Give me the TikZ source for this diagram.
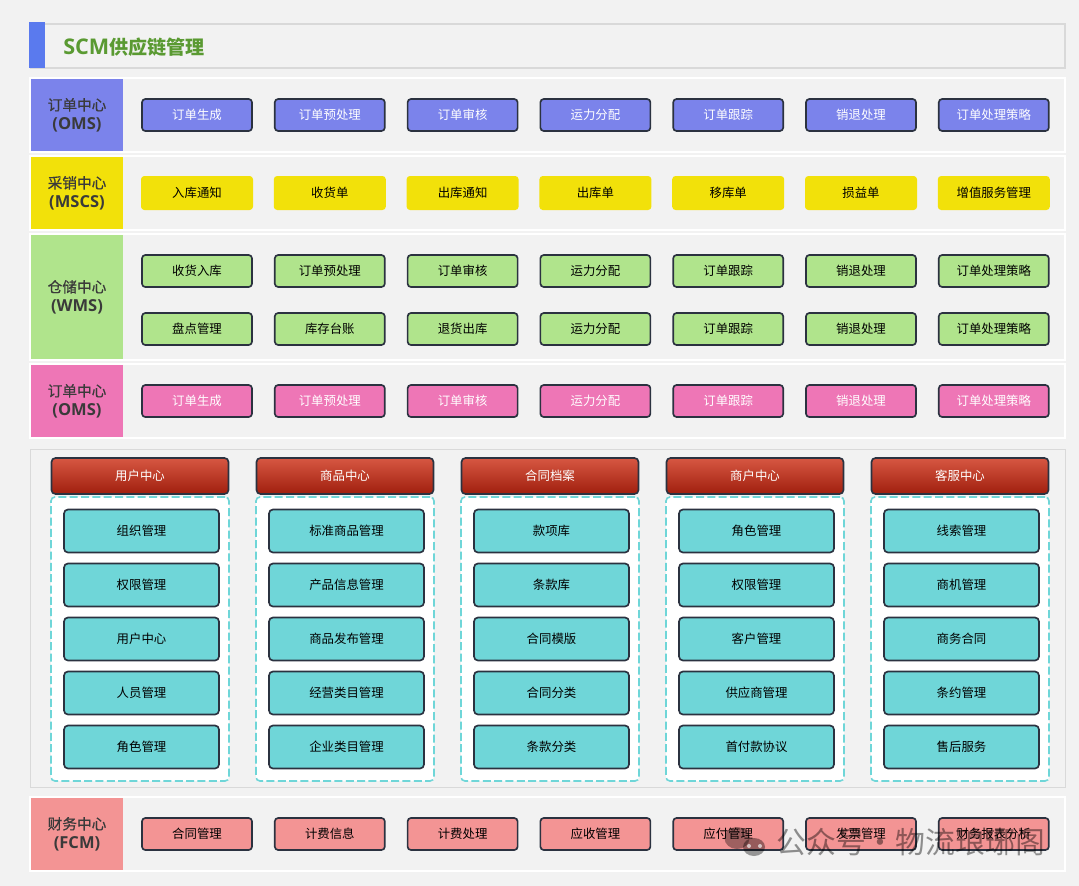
\documentclass[tikz,border=0pt]{standalone}
\usepackage{fontspec}
\setmainfont{Noto Sans CJK SC}
\newfontfamily\latinfont{Open Sans}
\newfontfamily\labelfont[FakeBold=0.6]{Noto Sans CJK SC}
\newcommand{\codetext}[1]{{\fontsize{12.4}{14.2}\selectfont\latinfont\bfseries #1}}
\definecolor{pagebg}{HTML}{F2F2F2}
\definecolor{edgegray}{HTML}{D9D9D9}
\definecolor{darkedge}{HTML}{2B3240}
\definecolor{labeltext}{HTML}{3A3A3A}
\definecolor{titleblue}{HTML}{5A7AEE}
\definecolor{titlegreen}{HTML}{5A9A32}
\definecolor{omsblue}{HTML}{7B83EB}
\definecolor{mscsyellow}{HTML}{F2E10A}
\definecolor{wmsgreen}{HTML}{B0E48C}
\definecolor{pinkrow}{HTML}{EE76B6}
\definecolor{itemteal}{HTML}{6FD6D8}
\definecolor{fcmred}{HTML}{F39494}
\definecolor{headtop}{HTML}{D75742}
\definecolor{headbottom}{HTML}{A01F0E}
\tikzset{
  rowframe/.style={draw=white, line width=1.2pt, fill=pagebg, anchor=north west, inner sep=0pt, outer sep=0pt, minimum width=1035*0.75pt},
  rowlabel/.style={fill=#1, text=labeltext, anchor=north west, inner sep=0pt, outer sep=0pt, minimum width=92*0.75pt, align=center, font=\fontsize{11}{14.2}\selectfont\labelfont},
  rowitem/.style={draw=darkedge, line width=1.25pt, rounded corners=2.5pt, fill=#1, text=black, inner sep=0pt, minimum width=110*0.75pt, minimum height=32*0.75pt, font=\fontsize{9.3}{10}\selectfont},
  whiteitem/.style={rowitem=#1, text=white},
  flatitem/.style={rowitem=#1, draw=none, minimum width=112*0.75pt, minimum height=34*0.75pt},
  colhead/.style={draw=darkedge, line width=1.25pt, rounded corners=3pt, top color=headtop, bottom color=headbottom, text=white, inner sep=0pt, minimum width=177*0.75pt, minimum height=36*0.75pt, font=\fontsize{9.3}{10}\selectfont},
  colbox/.style={draw=itemteal, line width=1.2pt, dashed, dash pattern=on 6pt off 2.5pt, rounded corners=3pt, fill=white, inner sep=0pt, minimum width=178*0.75pt, minimum height=284*0.75pt},
  colitem/.style={draw=darkedge, line width=1.25pt, rounded corners=3pt, fill=itemteal, text=black, inner sep=0pt, minimum width=155*0.75pt, minimum height=43*0.75pt, font=\fontsize{9.3}{10}\selectfont}
}
\begin{document}
\begin{tikzpicture}[x=0.75pt,y=-0.75pt,node distance=99.6pt]
        \useasboundingbox (0,0) rectangle (1079,886);
        \fill[pagebg] (0,0) rectangle (1079,886);

        % title
        \node[draw=edgegray, line width=1.5pt, fill=pagebg, anchor=north west, inner sep=0pt, minimum width=1034*0.75pt, minimum height=44*0.75pt] (titlebar) at (30,23) {};
        \node[fill=titleblue, anchor=north west, inner sep=0pt, outer sep=0pt, minimum width=16*0.75pt, minimum height=46*0.75pt] (titlemark) at (29,22) {};
        \node[anchor=west, inner sep=0pt, text=titlegreen, font=\fontsize{14.3}{18}\selectfont\bfseries] (title) at (63,47) {{\fontsize{16.2}{18}\selectfont\latinfont SCM}供应链管理};

        % order row
        \node[rowframe, minimum height=74*0.75pt] (omsframe) at (30,78) {};
        \node[rowlabel=omsblue, minimum height=72*0.75pt] (omslabel) at (31,79) {订单中心\\\codetext{(OMS)}};
        \node[whiteitem=omsblue] (oms1) at (197,115) {订单生成};
        \node[whiteitem=omsblue, right of=oms1] (oms2) {订单预处理};
        \node[whiteitem=omsblue, right of=oms2] (oms3) {订单审核};
        \node[whiteitem=omsblue, right of=oms3] (oms4) {运力分配};
        \node[whiteitem=omsblue, right of=oms4] (oms5) {订单跟踪};
        \node[whiteitem=omsblue, right of=oms5] (oms6) {销退处理};
        \node[whiteitem=omsblue, right of=oms6] (oms7) {订单处理策略};

        % purchase and sales row
        \node[rowframe, minimum height=74*0.75pt] (mscsframe) at (30,156) {};
        \node[rowlabel=mscsyellow, minimum height=72*0.75pt] (mscslabel) at (31,157) {采销中心\\\codetext{(MSCS)}};
        \node[flatitem=mscsyellow] (mscs1) at (197,193) {入库通知};
        \node[flatitem=mscsyellow, right of=mscs1] (mscs2) {收货单};
        \node[flatitem=mscsyellow, right of=mscs2] (mscs3) {出库通知};
        \node[flatitem=mscsyellow, right of=mscs3] (mscs4) {出库单};
        \node[flatitem=mscsyellow, right of=mscs4] (mscs5) {移库单};
        \node[flatitem=mscsyellow, right of=mscs5] (mscs6) {损益单};
        \node[flatitem=mscsyellow, right of=mscs6] (mscs7) {增值服务管理};

        % warehouse row
        \node[rowframe, minimum height=126*0.75pt] (wmsframe) at (30,234) {};
        \node[rowlabel=wmsgreen, minimum height=124*0.75pt] (wmslabel) at (31,235) {仓储中心\\\codetext{(WMS)}};
        \node[rowitem=wmsgreen] (wms1) at (197,271) {收货入库};
        \node[rowitem=wmsgreen, right of=wms1] (wms2) {订单预处理};
        \node[rowitem=wmsgreen, right of=wms2] (wms3) {订单审核};
        \node[rowitem=wmsgreen, right of=wms3] (wms4) {运力分配};
        \node[rowitem=wmsgreen, right of=wms4] (wms5) {订单跟踪};
        \node[rowitem=wmsgreen, right of=wms5] (wms6) {销退处理};
        \node[rowitem=wmsgreen, right of=wms6] (wms7) {订单处理策略};
        \node[rowitem=wmsgreen] (wmsb1) at (197,329) {盘点管理};
        \node[rowitem=wmsgreen, right of=wmsb1] (wmsb2) {库存台账};
        \node[rowitem=wmsgreen, right of=wmsb2] (wmsb3) {退货出库};
        \node[rowitem=wmsgreen, right of=wmsb3] (wmsb4) {运力分配};
        \node[rowitem=wmsgreen, right of=wmsb4] (wmsb5) {订单跟踪};
        \node[rowitem=wmsgreen, right of=wmsb5] (wmsb6) {销退处理};
        \node[rowitem=wmsgreen, right of=wmsb6] (wmsb7) {订单处理策略};

        % second order row
        \node[rowframe, minimum height=74*0.75pt] (pinkframe) at (30,364) {};
        \node[rowlabel=pinkrow, minimum height=72*0.75pt] (pinklabel) at (31,365) {订单中心\\\codetext{(OMS)}};
        \node[whiteitem=pinkrow] (pink1) at (197,401) {订单生成};
        \node[whiteitem=pinkrow, right of=pink1] (pink2) {订单预处理};
        \node[whiteitem=pinkrow, right of=pink2] (pink3) {订单审核};
        \node[whiteitem=pinkrow, right of=pink3] (pink4) {运力分配};
        \node[whiteitem=pinkrow, right of=pink4] (pink5) {订单跟踪};
        \node[whiteitem=pinkrow, right of=pink5] (pink6) {销退处理};
        \node[whiteitem=pinkrow, right of=pink6] (pink7) {订单处理策略};

        % middle panel
        \node[draw=edgegray, line width=1.2pt, fill=pagebg, anchor=north west, inner sep=0pt, minimum width=1035*0.75pt, minimum height=338*0.75pt] (panel) at (29.5,448.5) {};

        \begin{scope}[node distance=40.5pt]
        \node[colbox] (userbox) at (140,639) {};
        \node[colhead] (userhead) at (140,476) {用户中心};
        \node[colitem] (user1) at (141.5,531) {组织管理};
        \node[colitem, below of=user1] (user2) {权限管理};
        \node[colitem, below of=user2] (user3) {用户中心};
        \node[colitem, below of=user3] (user4) {人员管理};
        \node[colitem, below of=user4] (user5) {角色管理};

        \node[colbox] (goodsbox) at (345,639) {};
        \node[colhead] (goodshead) at (345,476) {商品中心};
        \node[colitem] (goods1) at (346.5,531) {标准商品管理};
        \node[colitem, below of=goods1] (goods2) {产品信息管理};
        \node[colitem, below of=goods2] (goods3) {商品发布管理};
        \node[colitem, below of=goods3] (goods4) {经营类目管理};
        \node[colitem, below of=goods4] (goods5) {企业类目管理};

        \node[colbox] (contractbox) at (550,639) {};
        \node[colhead] (contracthead) at (550,476) {合同档案};
        \node[colitem] (contract1) at (551.5,531) {款项库};
        \node[colitem, below of=contract1] (contract2) {条款库};
        \node[colitem, below of=contract2] (contract3) {合同模版};
        \node[colitem, below of=contract3] (contract4) {合同分类};
        \node[colitem, below of=contract4] (contract5) {条款分类};

        \node[colbox] (merchantbox) at (755,639) {};
        \node[colhead] (merchanthead) at (755,476) {商户中心};
        \node[colitem] (merchant1) at (756.5,531) {角色管理};
        \node[colitem, below of=merchant1] (merchant2) {权限管理};
        \node[colitem, below of=merchant2] (merchant3) {客户管理};
        \node[colitem, below of=merchant3] (merchant4) {供应商管理};
        \node[colitem, below of=merchant4] (merchant5) {首付款协议};

        \node[colbox] (servicebox) at (960,639) {};
        \node[colhead] (servicehead) at (960,476) {客服中心};
        \node[colitem] (service1) at (961.5,531) {线索管理};
        \node[colitem, below of=service1] (service2) {商机管理};
        \node[colitem, below of=service2] (service3) {商务合同};
        \node[colitem, below of=service3] (service4) {条约管理};
        \node[colitem, below of=service4] (service5) {售后服务};
        \end{scope}

        % finance row
        \node[rowframe, minimum height=74*0.75pt] (fcmframe) at (30,797) {};
        \node[rowlabel=fcmred, minimum height=72*0.75pt] (fcmlabel) at (31,798) {财务中心\\\codetext{(FCM)}};
        \node[rowitem=fcmred] (fcm1) at (197,834) {合同管理};
        \node[rowitem=fcmred, right of=fcm1] (fcm2) {计费信息};
        \node[rowitem=fcmred, right of=fcm2] (fcm3) {计费处理};
        \node[rowitem=fcmred, right of=fcm3] (fcm4) {应收管理};
        \node[rowitem=fcmred, right of=fcm4] (fcm5) {应付管理};
        \node[rowitem=fcmred, right of=fcm5] (fcm6) {发票管理};
        \node[rowitem=fcmred, right of=fcm6] (fcm7) {财务报表分析};

        % watermark
        \fill[black, opacity=0.35] (737,838) ellipse (12.5 and 11);
        \fill[black, opacity=0.38] (754,847) ellipse (11 and 9);
        \fill[pagebg, opacity=0.7] (749,846) circle (2);
        \fill[pagebg, opacity=0.7] (760,846) circle (2);
        \node[anchor=west, inner sep=0pt, text=black, opacity=0.42, font=\fontsize{22.4}{24}\selectfont] (mark) at (776,842) {公众号・物流琅琊阁};
\end{tikzpicture}
\end{document}
